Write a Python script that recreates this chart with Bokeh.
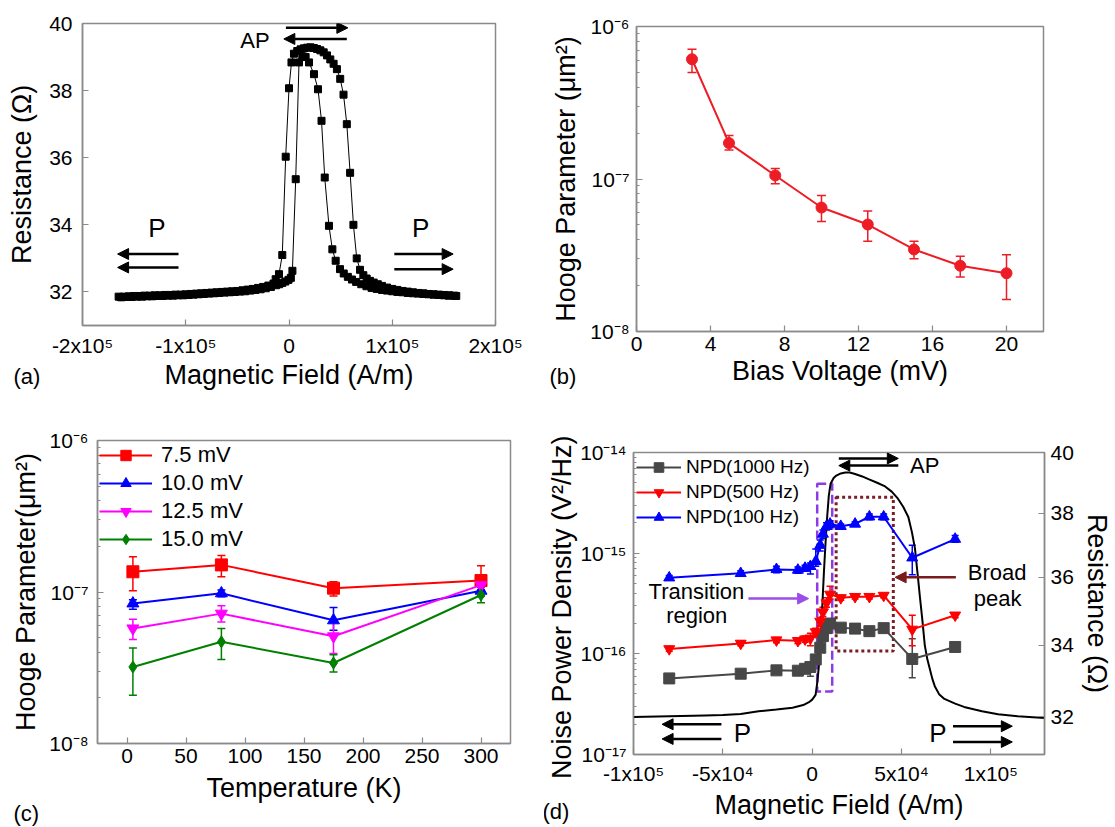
import math
from bokeh.plotting import figure
from bokeh.layouts import row, column
from bokeh.models import (ColumnDataSource, Whisker, TeeHead, Arrow, NormalHead, Label, Title,
                          BoxAnnotation, FixedTicker, Legend, LegendItem, LinearAxis,
                          Range1d, CustomJSTickFormatter)
from bokeh.embed import file_html
from bokeh.resources import INLINE

FONT = "Liberation Sans"

# ---------------- panel (a): R-H loop ----------------
a_field_up = [-165e3, -160e3, -155e3, -150e3, -145e3, -140e3, -135e3, -130e3, -125e3, -120e3,
              -115e3, -110e3, -105e3, -100e3, -95e3, -90e3, -85e3, -80e3, -75e3, -70e3,
              -65e3, -60e3, -55e3, -50e3, -45e3, -40e3, -35e3, -30e3, -25e3, -20e3, -15e3,
              -12.9e3, -9.7e3, -6.5e3, -3.2e3, 0,
              2.4e3, 4.8e3, 8e3, 11.2e3, 14.4e3, 17.6e3, 20.8e3, 24e3, 27.2e3, 30.4e3, 33.6e3,
              36.8e3, 40e3, 43.2e3, 46.4e3, 49.6e3, 52.8e3, 56e3, 59.2e3, 62.4e3, 65.6e3, 68.8e3,
              72e3, 75.2e3, 78.4e3,
              82e3, 86e3, 90e3, 95e3, 100e3, 105e3, 110e3, 115e3, 120e3, 125e3, 130e3, 135e3,
              140e3, 145e3, 150e3, 155e3, 160e3]
a_res_up = [31.86, 31.86, 31.87, 31.88, 31.88, 31.89, 31.89, 31.90, 31.90, 31.91,
            31.91, 31.92, 31.92, 31.93, 31.94, 31.95, 31.96, 31.97, 31.98, 31.99,
            32.00, 32.01, 32.02, 32.03, 32.05, 32.07, 32.09, 32.12, 32.15, 32.19, 32.25,
            32.38, 32.53, 33.10, 36.03, 38.07,
            38.84, 39.10, 39.18, 39.23, 39.26, 39.28, 39.29, 39.27, 39.24, 39.20, 39.14,
            39.05, 38.93, 38.80, 38.64, 38.35, 37.88, 37.00, 35.55, 34.00, 33.00, 32.66,
            32.50, 32.40, 32.33,
            32.28, 32.23, 32.18, 32.13, 32.09, 32.06, 32.03, 32.01, 31.99, 31.97, 31.96, 31.94,
            31.93, 31.92, 31.91, 31.90, 31.89]
a_field_down = [-162.5e3, -157.5e3, -152.5e3, -147.5e3, -142.5e3, -137.5e3, -132.5e3, -127.5e3,
                -122.5e3, -117.5e3, -112.5e3, -107.5e3, -102.5e3, -97.5e3, -92.5e3, -87.5e3,
                -82.5e3, -77.5e3, -72.5e3, -67.5e3, -62.5e3, -57.5e3, -52.5e3, -47.5e3,
                -42.5e3, -37.5e3, -32.5e3, -27.5e3, -22.5e3, -17.5e3, -12.5e3,
                -9.5e3, -6.5e3, -3.5e3, -0.5e3, 1.8e3, 3.3e3, 6.5e3, 9.7e3, 12.9e3, 16.1e3,
                19.4e3, 24.2e3, 28.1e3, 31.5e3, 34.6e3, 38.7e3, 42e3, 45.2e3, 49.4e3, 53e3,
                57e3, 61e3, 65e3, 70e3, 75e3, 80e3, 85e3, 90e3, 95e3, 100e3, 105e3, 110e3,
                115e3, 120e3, 125e3, 130e3, 135e3, 140e3, 145e3, 150e3, 155e3, 162e3]
a_res_down = [31.84, 31.85, 31.85, 31.86, 31.86, 31.87, 31.87, 31.88,
              31.88, 31.89, 31.89, 31.90, 31.90, 31.91, 31.92, 31.93,
              31.94, 31.95, 31.96, 31.97, 31.98, 31.99, 32.00, 32.01,
              32.02, 32.04, 32.06, 32.08, 32.11, 32.15, 32.20,
              32.23, 32.27, 32.31, 32.36, 32.42, 32.63, 35.36, 38.84, 39.02, 39.00,
              38.84, 38.49, 38.04, 37.10, 35.41, 33.97, 33.27, 32.93, 32.68, 32.55,
              32.45, 32.37, 32.30, 32.23, 32.17, 32.12, 32.09, 32.06, 32.04, 32.02, 32.00, 31.99,
              31.97, 31.96, 31.95, 31.94, 31.93, 31.92, 31.91, 31.90, 31.89, 31.88]
a_xticks = [-2e5, -1e5, 0, 1e5, 2e5]
a_xlabels = ["-2x10\u2075", "-1x10\u2075", "0", "1x10\u2075", "2x10\u2075"]
a_yticks = [32, 34, 36, 38, 40]

# ---------------- panel (b): Hooge vs bias ----------------
b_bias = [3, 5, 7.5, 10, 12.5, 15, 17.5, 20]
b_hooge = [6.1e-7, 1.72e-7, 1.055e-7, 6.5e-8, 5.03e-8, 3.45e-8, 2.7e-8, 2.41e-8]
b_hooge_hi = [7.1e-7, 1.93e-7, 1.17e-7, 7.8e-8, 6.16e-8, 3.9e-8, 3.12e-8, 3.19e-8]
b_hooge_lo = [5.0e-7, 1.55e-7, 9.3e-8, 5.26e-8, 3.9e-8, 3.0e-8, 2.28e-8, 1.62e-8]
b_xticks = [0, 4, 8, 12, 16, 20]

log_ticks_h = [1e-8, 1e-7, 1e-6]
log_labels_h = ["10\u207b\u2078", "10\u207b\u2077", "10\u207b\u2076"]

# ---------------- panel (c): Hooge vs temperature ----------------
c_temp = [5, 80, 175, 300]
c_names = ["7.5 mV", "10.0 mV", "12.5 mV", "15.0 mV"]
c_vals = [[1.36e-7, 1.51e-7, 1.06e-7, 1.19e-7],
          [8.4e-8, 9.8e-8, 6.5e-8, 1.02e-7],
          [5.75e-8, 7.2e-8, 5.1e-8, 1.11e-7],
          [3.2e-8, 4.69e-8, 3.4e-8, 9.55e-8]]
c_hi = [[1.71e-7, 1.74e-7, 1.17e-7, 1.49e-7],
        [8.9e-8, 1.03e-7, 7.9e-8, 1.08e-7],
        [6.6e-8, 8.1e-8, 6.4e-8, 1.18e-7],
        [4.27e-8, 5.75e-8, 3.86e-8, 1.03e-7]]
c_lo = [[1.02e-7, 1.26e-7, 9.4e-8, 1.0e-7],
        [7.7e-8, 9.3e-8, 5.6e-8, 9.4e-8],
        [4.86e-8, 6.35e-8, 3.93e-8, 1.03e-7],
        [2.08e-8, 3.58e-8, 2.96e-8, 8.5e-8]]
c_colors = ["#FF0000", "#0000FF", "#FF00FF", "#008000"]
c_markers = ["square", "triangle", "inverted_triangle", "diamond"]
c_xticks = [0, 50, 100, 150, 200, 250, 300]

# ---------------- panel (d): noise + resistance ----------------
d_field = [-8e4, -4e4, -2e4, -8e3, -4e3, -1e3, 2e3, 4.5e3, 6e3, 8e3, 1e4,
           1.6e4, 2.4e4, 3.2e4, 4e4, 5.6e4, 8e4]
d_names = ["NPD(1000 Hz)", "NPD(500 Hz)", "NPD(100 Hz)"]
d_npd = [[5.7e-17, 6.35e-17, 6.85e-17, 6.8e-17, 7.1e-17, 7.4e-17, 8.8e-17, 1.15e-16, 1.5e-16,
          1.8e-16, 2.0e-16, 1.82e-16, 1.78e-16, 1.68e-16, 1.8e-16, 8.9e-17, 1.17e-16],
         [1.12e-16, 1.27e-16, 1.37e-16, 1.35e-16, 1.4e-16, 1.43e-16, 1.65e-16, 2.1e-16, 2.6e-16,
          3.2e-16, 3.9e-16, 3.6e-16, 3.7e-16, 3.7e-16, 3.8e-16, 1.75e-16, 2.42e-16],
         [5.7e-16, 6.3e-16, 6.9e-16, 6.8e-16, 7.1e-16, 7.4e-16, 8.3e-16, 1.2e-15, 1.55e-15,
          1.85e-15, 1.95e-15, 1.85e-15, 1.95e-15, 2.3e-15, 2.3e-15, 9.0e-16, 1.38e-15]]
d_npd_lo = [[5.4e-17, 6.0e-17, 6.5e-17, 6.4e-17, 6.7e-17, 6.0e-17, 8.2e-17, 1.05e-16, 1.35e-16,
             1.65e-16, 1.85e-16, 1.72e-16, 1.7e-16, 1.6e-16, 1.7e-16, 5.8e-17, 1.1e-16],
            [1.06e-16, 1.2e-16, 1.29e-16, 1.27e-16, 1.3e-16, 1.2e-16, 1.5e-16, 1.9e-16, 2.35e-16,
             2.9e-16, 3.5e-16, 3.4e-16, 3.5e-16, 3.5e-16, 3.6e-16, 1.2e-16, 2.28e-16],
            [5.4e-16, 5.9e-16, 6.4e-16, 6.3e-16, 6.6e-16, 6.2e-16, 7.4e-16, 1.05e-15, 1.4e-15,
             1.7e-15, 1.8e-15, 1.75e-15, 1.85e-15, 2.15e-15, 2.15e-15, 6.1e-16, 1.28e-15]]
d_npd_hi = [[6.0e-17, 6.7e-17, 7.2e-17, 7.2e-17, 7.5e-17, 8.2e-17, 9.5e-17, 1.25e-16, 1.65e-16,
             1.95e-16, 2.2e-16, 1.92e-16, 1.86e-16, 1.76e-16, 1.9e-16, 1.41e-16, 1.24e-16],
            [1.18e-16, 1.34e-16, 1.45e-16, 1.43e-16, 1.5e-16, 1.6e-16, 1.8e-16, 2.3e-16, 2.9e-16,
             3.6e-16, 4.7e-16, 3.8e-16, 3.9e-16, 3.9e-16, 4.0e-16, 2.42e-16, 2.56e-16],
            [6.0e-16, 6.7e-16, 7.4e-16, 7.3e-16, 7.6e-16, 8.0e-16, 1.1e-15, 1.35e-15, 1.7e-15,
             2.0e-15, 2.1e-15, 1.95e-15, 2.05e-15, 2.45e-15, 2.45e-15, 1.2e-15, 1.5e-15]]
d_colors = ["#474747", "#FF0000", "#0000FF"]
d_markers = ["square", "inverted_triangle", "triangle"]
d_field_r = [-100e3, -80e3, -60e3, -50e3, -40e3, -30e3, -20e3, -11e3, -5e3, -1.8e3,
             0, 1.9e3, 3e3, 3.8e3, 4.7e3, 5.7e3, 6.6e3, 7.5e3, 8.4e3, 9.3e3,
             10.3e3, 12e3, 13.5e3, 16e3, 18.6e3, 21e3, 24e3, 28e3, 31.5e3, 36e3,
             40.8e3, 44.5e3, 48e3, 51e3, 53.8e3, 55.8e3, 57.5e3, 59e3, 60.3e3, 61.7e3,
             63e3, 64.4e3, 65.8e3, 67.2e3, 68.6e3, 71e3, 74e3, 80e3, 85e3, 95e3,
             104e3, 115e3, 130e3]
d_res = [32.0, 32.02, 32.04, 32.05, 32.08, 32.15, 32.2, 32.25, 32.32, 32.4,
         32.47, 32.6, 33.0, 33.45, 34.3, 35.2, 36.2, 37.1, 37.9, 38.57,
         38.96, 39.15, 39.23, 39.3, 39.33, 39.33, 39.28, 39.2, 39.11, 39.0,
         38.87, 38.7, 38.47, 38.2, 37.88, 37.4, 36.89, 36.1, 35.4, 34.7,
         34.0, 33.6, 33.33, 33.05, 32.84, 32.62, 32.49, 32.36, 32.27, 32.15,
         32.07, 32.02, 31.97]
d_xticks = [-1e5, -5e4, 0, 5e4, 1e5]
d_xlabels = ["-1x10\u2075", "-5x10\u2074", "0", "5x10\u2074", "1x10\u2075"]
d_log_ticks = [1e-17, 1e-16, 1e-15, 1e-14]
d_log_labels = ["10\u207b\u00b9\u2077", "10\u207b\u00b9\u2076", "10\u207b\u00b9\u2075", "10\u207b\u00b9\u2074"]
d_rticks = [32, 34, 36, 38, 40]


# ---------------- helpers ----------------
def tick_fmt(tv, tl):
    return CustomJSTickFormatter(args=dict(tv=list(tv), tl=list(tl)), code="""
for (let i = 0; i < tv.length; i++) {
  const t = tv[i];
  if (Math.abs(t - tick) <= 1e-6 * Math.max(Math.abs(t), Math.abs(tick), 1e-300)) return tl[i];
}
return "";
""")


def log_minor(decades):
    return [k * 10.0 ** e for e in decades for k in range(2, 10)]


def make_fig(w, h, xr, yr, ylog, bl, br, bt, bb):
    p = figure(width=w, height=h, x_range=xr, y_range=yr,
               y_axis_type="log" if ylog else "linear",
               output_backend="svg", toolbar_location=None,
               min_border_left=bl, min_border_right=br, min_border_top=bt, min_border_bottom=bb)
    if "frame_align" in p.properties():
        p.frame_align = False
    p.grid.visible = False
    p.outline_line_color = "#8a8a8a"
    p.outline_line_width = 1.5
    p.background_fill_color = "white"
    p.border_fill_color = "white"
    return p


def style_axes(p, log_axes=()):
    for ax in p.axis:
        ax.axis_line_color = "#8a8a8a"
        ax.axis_line_width = 1.5
        ax.major_tick_line_color = "#8a8a8a"
        ax.major_tick_line_width = 1.2
        ax.major_tick_in = 6
        ax.major_tick_out = 0
        ax.minor_tick_in = 3
        ax.minor_tick_out = 0
        ax.minor_tick_line_color = "#8a8a8a"
        ax.major_label_text_font = FONT
        ax.major_label_text_font_size = "21px"
        ax.major_label_text_color = "black"
        ax.axis_label_text_font = FONT
        ax.axis_label_text_font_size = "27px"
        ax.axis_label_text_font_style = "normal"
        ax.axis_label_text_color = "black"
        if ax not in log_axes:
            ax.minor_tick_line_color = None


def set_standoffs(ax, tick, lab):
    ax.major_label_standoff = tick
    ax.axis_label_standoff = lab


def label(p, x, y, text, size="22px", color="black", rn=None, align="center"):
    kw = dict(x=x, y=y, text=text, text_font=FONT, text_font_size=size, text_color=color,
              text_align=align, text_baseline="middle")
    if rn:
        kw["y_range_name"] = rn
    p.add_layout(Label(**kw))


def panel_tag(p, text, offset, standoff):
    p.add_layout(Title(text=text, align="left", vertical_align="top", offset=offset,
                       standoff=standoff, text_font=FONT, text_font_size="22px",
                       text_font_style="normal", text_color="black"), "below")


def arrow(p, x0, y0, x1, y1, color="black", width=2.5, rn=None, size=11):
    kw = dict(x_start=x0, y_start=y0, x_end=x1, y_end=y1, line_color=color, line_width=width,
              end=NormalHead(size=size, fill_color=color, line_color=color, line_width=1))
    if rn:
        kw["y_range_name"] = rn
    p.add_layout(Arrow(**kw))


def whisk(p, x, lo, hi, color, size=8, rn=None):
    src = ColumnDataSource(dict(x=x, lo=lo, hi=hi))
    kw = dict(source=src, base="x", lower="lo", upper="hi", line_color=color, line_width=1.5,
              upper_head=TeeHead(size=size, line_color=color, line_width=1.5),
              lower_head=TeeHead(size=size, line_color=color, line_width=1.5))
    if rn:
        kw["y_range_name"] = rn
    p.add_layout(Whisker(**kw))


# ================= (a) =================
pa = make_fig(548, 416, (-2e5, 2e5), (31, 40), False, 82, 53, 23, 91)
for hx, ry in ((a_field_up, a_res_up), (a_field_down, a_res_down)):
    pa.line(hx, ry, line_color="black", line_width=1)
    pa.scatter(hx, ry, marker="square", size=7, fill_color="black", line_color="black")
pa.xaxis.axis_label = "Magnetic Field (A/m)"
pa.yaxis.axis_label = "Resistance (\u03a9)"
pa.xaxis.ticker = FixedTicker(ticks=a_xticks)
pa.xaxis.formatter = tick_fmt(a_xticks, a_xlabels)
pa.yaxis.ticker = FixedTicker(ticks=a_yticks)
style_axes(pa)
set_standoffs(pa.yaxis[0], 10, 9)
set_standoffs(pa.xaxis[0], 8, 0)
arrow(pa, -3e3, 39.87, 57e3, 39.87)
arrow(pa, 56e3, 39.54, -5e3, 39.54)
label(pa, -33e3, 39.5, "AP", size="22px")
arrow(pa, -107e3, 33.13, -166e3, 33.13)
arrow(pa, -107e3, 32.73, -166e3, 32.73)
label(pa, -128e3, 33.92, "P", size="26px")
arrow(pa, 102e3, 33.13, 159e3, 33.13)
arrow(pa, 102e3, 32.68, 159e3, 32.68)
label(pa, 127.5e3, 33.92, "P", size="26px")
panel_tag(pa, "(a)", -69, -57)

# ================= (b) =================
pb = make_fig(566, 416, (0, 22), (1e-8, 1e-6), True, 82, 71, 26, 85)
whisk(pb, b_bias, b_hooge_lo, b_hooge_hi, "#EE1C25", size=9)
pb.line(b_bias, b_hooge, line_color="#EE1C25", line_width=2)
pb.scatter(b_bias, b_hooge, marker="circle", size=11, fill_color="#EE1C25", line_color="#EE1C25")
pb.xaxis.axis_label = "Bias Voltage (mV)"
pb.yaxis.axis_label = "Hooge Parameter (\u03bcm\u00b2)"
pb.xaxis.ticker = FixedTicker(ticks=b_xticks)
pb.yaxis.ticker = FixedTicker(ticks=log_ticks_h, minor_ticks=log_minor([-8, -7]))
pb.yaxis.formatter = tick_fmt(log_ticks_h, log_labels_h)
style_axes(pb, log_axes=list(pb.yaxis))
set_standoffs(pb.xaxis[0], 5, 2)
set_standoffs(pb.yaxis[0], 7, 6)
panel_tag(pb, "(b)", -87, -49)

# ================= (c) =================
pc = make_fig(544, 410, (-25, 325), (1e-8, 1e-6), True, 97, 34, 24, 83)
items = []
for name, ys, hi, lo, col, mk in zip(c_names, c_vals, c_hi, c_lo, c_colors, c_markers):
    whisk(pc, c_temp, lo, hi, col, size=8)
    l = pc.line(c_temp, ys, line_color=col, line_width=2)
    s = pc.scatter(c_temp, ys, marker=mk, size=12, fill_color=col, line_color=col)
    items.append(LegendItem(label=name, renderers=[l, s]))
leg = Legend(items=items, location="top_left", border_line_color=None, background_fill_alpha=0,
             label_text_font=FONT, label_text_font_size="22px", label_text_color="black",
             glyph_width=53, glyph_height=26, label_height=26, spacing=2, padding=0, margin=2,
             label_standoff=9)
pc.add_layout(leg)
pc.xaxis.axis_label = "Temperature (K)"
pc.yaxis.axis_label = "Hooge Parameter(\u03bcm\u00b2)"
pc.xaxis.ticker = FixedTicker(ticks=c_xticks)
pc.yaxis.ticker = FixedTicker(ticks=log_ticks_h, minor_ticks=log_minor([-8, -7]))
pc.yaxis.formatter = tick_fmt(log_ticks_h, log_labels_h)
style_axes(pc, log_axes=list(pc.yaxis))
set_standoffs(pc.xaxis[0], 5, 7)
set_standoffs(pc.yaxis[0], 9, 5)
panel_tag(pc, "(c)", -84, -9)

# ================= (d) =================
pd_ = make_fig(570, 410, (-1e5, 1.3e5), (1e-17, 1e-14), True, 89, 67, 36, 72)
pd_.extra_y_ranges = {"R": Range1d(31, 40)}
raxis = LinearAxis(y_range_name="R", axis_label="Resistance (\u03a9)",
                   ticker=FixedTicker(ticks=d_rticks))
pd_.add_layout(raxis, "right")

pd_.add_layout(BoxAnnotation(left=2.8e3, right=11.2e3, bottom=32.69, top=38.96, y_range_name="R",
                             fill_alpha=0, line_alpha=1, line_color="#8C3CE6", line_width=2.5,
                             line_dash="9 4", level="underlay"))
pd_.add_layout(BoxAnnotation(left=13.4e3, right=45.4e3, bottom=33.83, top=38.52, y_range_name="R",
                             fill_alpha=0, line_alpha=1, line_color="#7A1E28", line_width=3,
                             line_dash="3 3", level="underlay"))
pd_.line(d_field_r, d_res, line_color="black", line_width=2, y_range_name="R")

items = []
for name, ys, lo, hi, col, mk in zip(d_names, d_npd, d_npd_lo, d_npd_hi, d_colors, d_markers):
    whisk(pd_, d_field, lo, hi, col, size=7)
    l = pd_.line(d_field, ys, line_color=col, line_width=2)
    s = pd_.scatter(d_field, ys, marker=mk, size=11, fill_color=col, line_color=col)
    items.append(LegendItem(label=name, renderers=[l, s]))
leg = Legend(items=items, location="top_left", border_line_color=None, background_fill_alpha=0,
             label_text_font=FONT, label_text_font_size="19px", label_text_color="black",
             glyph_width=45, glyph_height=24, label_height=24, spacing=1, padding=0, margin=3,
             label_standoff=5)
pd_.add_layout(leg)

pd_.xaxis.axis_label = "Magnetic Field (A/m)"
pd_.yaxis[0].axis_label = "Noise Power Density  (V\u00b2/Hz)"
pd_.xaxis.ticker = FixedTicker(ticks=d_xticks)
pd_.xaxis.formatter = tick_fmt(d_xticks, d_xlabels)
pd_.yaxis[0].ticker = FixedTicker(ticks=d_log_ticks, minor_ticks=log_minor([-17, -16, -15]))
pd_.yaxis[0].formatter = tick_fmt(d_log_ticks, d_log_labels)
style_axes(pd_, log_axes=[pd_.yaxis[0]])
set_standoffs(pd_.xaxis[0], 7, 2)
set_standoffs(pd_.yaxis[0], 7, 0)
set_standoffs(raxis, 6, 5)

arrow(pd_, 14.9e3, 39.8, 48.2e3, 39.8, rn="R")
arrow(pd_, 48.2e3, 39.56, 14.9e3, 39.56, rn="R")
label(pd_, 63e3, 39.56, "AP", size="22px", rn="R")
arrow(pd_, -50.8e3, 31.8, -84e3, 31.8, rn="R")
arrow(pd_, -50.8e3, 31.41, -84e3, 31.41, rn="R")
label(pd_, -39e3, 31.56, "P", size="26px", rn="R")
arrow(pd_, 78.8e3, 31.75, 112e3, 31.75, rn="R")
arrow(pd_, 78.8e3, 31.33, 112e3, 31.33, rn="R")
label(pd_, 70.4e3, 31.58, "P", size="26px", rn="R")
arrow(pd_, -35.7e3, 35.36, -2e3, 35.36, color="#9B4DEA", width=2.5, rn="R")
label(pd_, -64.8e3, 35.56, "Transition", size="22px", rn="R")
label(pd_, -64.6e3, 34.87, "region", size="22px", rn="R")
arrow(pd_, 80.4e3, 36.0, 46.4e3, 36.0, color="#7B1A1A", width=2.5, rn="R")
label(pd_, 103.5e3, 36.15, "Broad", size="22px", rn="R")
label(pd_, 103.8e3, 35.37, "peak", size="22px", rn="R")
panel_tag(pd_, "(d)", -91, -47)

layout = column(row(pa, pb), row(pc, pd_))
open("out.html", "w").write(file_html(layout, INLINE, title="Hooge parameter and noise"))
